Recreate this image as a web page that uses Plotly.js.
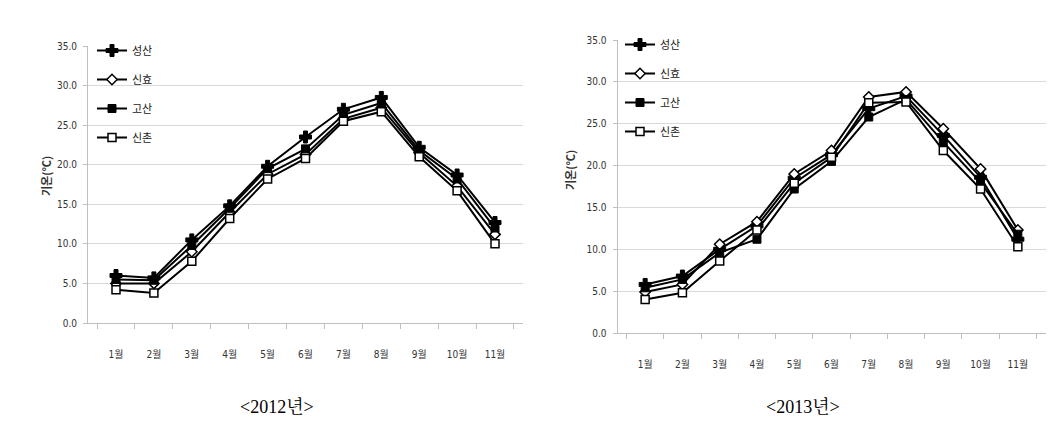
<!DOCTYPE html>
<html>
<head>
<meta charset="utf-8">
<script src="https://cdn.plot.ly/plotly-3.0.1.min.js"></script>
<style>html,body{margin:0;padding:0;background:#fff;}#chart{width:1062px;height:425px;}</style>
</head>
<body>
<div id="chart"></div>
<script>
const months = ['1월','2월','3월','4월','5월','6월','7월','8월','9월','10월','11월'];
const seriesNames = ['성산','신효','고산','신촌'];

const sungsan2012 = [6.0,5.7,10.5,14.8,19.8,23.5,27.0,28.5,22.2,18.7,12.7];
const sinhyo2012  = [5.0,5.0,9.0,14.0,18.8,21.3,25.8,27.2,21.5,17.3,11.2];
const gosan2012   = [5.5,5.4,9.8,14.5,19.5,22.0,26.3,27.8,21.8,18.2,12.0];
const sinchon2012 = [4.2,3.8,7.8,13.2,18.2,20.8,25.5,26.7,21.0,16.7,10.0];

const sungsan2013 = [5.8,6.8,10.0,12.8,18.5,21.3,26.8,28.3,23.6,18.6,11.2];
const sinhyo2013  = [4.9,5.8,10.6,13.3,19.0,21.8,28.2,28.8,24.4,19.6,12.3];
const gosan2013   = [5.4,6.4,9.6,11.2,17.2,20.5,25.8,27.9,22.8,18.0,11.8];
const sinchon2013 = [4.0,4.8,8.6,12.3,17.9,21.0,27.5,27.6,21.8,17.2,10.3];

const yTitle = '기온(°C)';
const captions = ['&lt;2012년&gt;','&lt;2013년&gt;'];

const markerStyles = [
  {symbol:'cross', size:10, color:'#000', line:{color:'#000', width:1}},
  {symbol:'diamond', size:8, color:'#fff', line:{color:'#000', width:1.5}},
  {symbol:'square', size:8, color:'#000', line:{color:'#000', width:1}},
  {symbol:'square', size:8, color:'#fff', line:{color:'#000', width:1.5}}
];

const data2012 = [sungsan2012, sinhyo2012, gosan2012, sinchon2012];
const data2013 = [sungsan2013, sinhyo2013, gosan2013, sinchon2013];

const traces = [];
data2012.forEach((vals,i)=>{
  traces.push({x:months, y:vals, name:seriesNames[i], type:'scatter', mode:'lines+markers',
    xaxis:'x', yaxis:'y', legend:'legend', legendgroup:'a'+i,
    line:{color:'#000', width:2}, marker:markerStyles[i]});
});
data2013.forEach((vals,i)=>{
  traces.push({x:months, y:vals, name:seriesNames[i], type:'scatter', mode:'lines+markers',
    xaxis:'x2', yaxis:'y2', legend:'legend2', legendgroup:'b'+i,
    line:{color:'#000', width:2}, marker:markerStyles[i]});
});

const W = 1062, H = 425;
const tickFont = {family:'"Liberation Sans Narrow", "DejaVu Sans Condensed", "Noto Sans CJK KR", sans-serif', size:10, color:'#333'};

function xAx(d0,d1,anchor){
  return {domain:[d0/W,d1/W], anchor:anchor, type:'category', showgrid:false,
    showline:true, linecolor:'#bfbfbf', linewidth:1, ticks:'outside', tickson:'boundaries',
    ticklen:5, tickcolor:'#bfbfbf', tickfont:tickFont, ticklabelstandoff:22, fixedrange:true};
}
function yAx(top,bottom,anchor){
  return {domain:[(H-bottom)/H,(H-top)/H], anchor:anchor, range:[0,35], dtick:5, tick0:0,
    tickformat:'.1f', showgrid:true, gridcolor:'#d9d9d9', gridwidth:1, zeroline:false,
    showline:true, linecolor:'#bfbfbf', linewidth:1, ticks:'outside', ticklen:4, tickcolor:'#bfbfbf',
    tickfont:tickFont, ticklabelstandoff:4, fixedrange:true};
}

const legendCommon = {bgcolor:'rgba(0,0,0,0)', borderwidth:0, traceorder:'grouped', tracegroupgap:10,
  font:{family:'"Noto Sans CJK KR", sans-serif', size:11, color:'#222'}, itemwidth:30,
  xanchor:'left', yanchor:'top'};

const titleFont = {family:'"Noto Sans CJK KR", sans-serif', size:11, color:'#333', weight:700};
const capFont = {family:'"Liberation Serif", "Noto Serif CJK KR", "Noto Sans CJK KR", serif', size:18, color:'#000'};

const layout = {
  width:W, height:H, margin:{l:0,r:0,t:0,b:0}, paper_bgcolor:'#fff', plot_bgcolor:'#fff',
  showlegend:true,
  xaxis:xAx(88,523,'y'), yaxis:yAx(46,323,'x'),
  xaxis2:xAx(617.5,1045.5,'y2'), yaxis2:yAx(40,333,'x2'),
  legend:Object.assign({x:92/W, y:(H-36)/H}, legendCommon),
  legend2:Object.assign({x:620/W, y:(H-30)/H}, legendCommon),
  annotations:[
    {text:yTitle, textangle:-90, xref:'paper', yref:'paper', x:46/W, y:(H-176)/H, xanchor:'center', yanchor:'middle', showarrow:false, font:titleFont},
    {text:yTitle, textangle:-90, xref:'paper', yref:'paper', x:570/W, y:(H-170)/H, xanchor:'center', yanchor:'middle', showarrow:false, font:titleFont},
    {text:captions[0], xref:'paper', yref:'paper', x:277/W, y:(H-406)/H, xanchor:'center', yanchor:'middle', showarrow:false, font:capFont},
    {text:captions[1], xref:'paper', yref:'paper', x:803/W, y:(H-406)/H, xanchor:'center', yanchor:'middle', showarrow:false, font:capFont}
  ]
};

Plotly.newPlot('chart', traces, layout, {displayModeBar:false, staticPlot:true});
</script>
</body>
</html>
